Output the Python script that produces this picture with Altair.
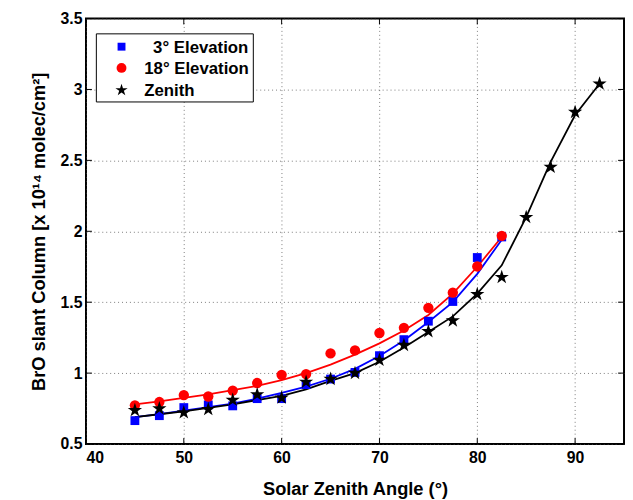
import altair as alt
import pandas as pd

# ---------------- data ----------------
sza = [45, 47.5, 50, 52.5, 55, 57.5, 60, 62.5, 65, 67.5, 70, 72.5, 75, 77.5, 80, 82.5]
sza_zenith = sza + [85, 87.5, 90, 92.5]

elev3_pts = [0.665, 0.70, 0.757, 0.776, 0.769, 0.82, 0.82, 0.919, 0.958, 1.005,
             1.123, 1.236, 1.366, 1.505, 1.815, 1.96]
elev18_pts = [0.773, 0.796, 0.845, 0.835, 0.877, 0.93, 0.988, 0.993, 1.139, 1.16,
              1.283, 1.319, 1.46, 1.567, 1.752, 1.968]
zenith_pts = [0.738, 0.75, 0.722, 0.745, 0.81, 0.849, 0.826, 0.9375, 0.958, 1.0,
              1.092, 1.197, 1.294, 1.37, 1.556, 1.676, 2.099, 2.453, 2.84, 3.04]

elev3_fit = [0.69, 0.71, 0.735, 0.76, 0.785, 0.82, 0.86, 0.905, 0.96, 1.03,
             1.12, 1.23, 1.36, 1.50, 1.70, 1.94]
elev18_fit = [0.78, 0.80, 0.825, 0.85, 0.88, 0.91, 0.95, 1.0, 1.06, 1.13,
              1.21, 1.30, 1.41, 1.56, 1.75, 1.96]
zenith_fit = [0.69, 0.71, 0.73, 0.755, 0.78, 0.81, 0.84, 0.885, 0.945, 1.0,
              1.08, 1.18, 1.29, 1.40, 1.56, 1.76, 2.10, 2.49, 2.82, 3.04]

series = ["3° Elevation", "18° Elevation", "Zenith"]
colors = ["#0000ff", "#ff0000", "#000000"]
STAR = ("M0,-1L0.225,-0.309L0.951,-0.309L0.363,0.118L0.588,0.809L0,0.382"
        "L-0.588,0.809L-0.363,0.118L-0.951,-0.309L-0.225,-0.309Z")
shapes = ["square", "circle", STAR]

x_ticks = [40, 50, 60, 70, 80, 90]
y_ticks = [0.5, 1, 1.5, 2, 2.5, 3, 3.5]

W, H = 545, 431
FONT = "Liberation Sans"

xs = alt.Scale(domain=[40, 95], nice=False, zero=False)
ys = alt.Scale(domain=[0.5, 3.5], nice=False, zero=False)

x_enc = alt.X("sza:Q", scale=xs, axis=alt.Axis(
    values=x_ticks, title="Solar Zenith Angle (°)", format="~g"))
y_enc = alt.Y("bro:Q", scale=ys, axis=alt.Axis(
    values=y_ticks, title="BrO slant Column [x 10¹⁴ molec/cm²]", format="~g"))

fit_sets = [(sza, elev3_fit), (sza, elev18_fit), (sza_zenith, zenith_fit)]
pt_sets = [(sza, elev3_pts), (sza, elev18_pts), (sza_zenith, zenith_pts)]
pt_sizes = [80, 110, 230]

layers = []
for (xv, yv), col in zip(fit_sets, colors):
    df = pd.DataFrame({"sza": xv, "bro": yv})
    layers.append(alt.Chart(df).mark_line(strokeWidth=1.8, color=col).encode(
        x=x_enc, y=y_enc))

# inward ticks on all four sides (MATLAB style)
tdf_x = pd.DataFrame({"t": x_ticks})
tdf_y = pd.DataFrame({"t": y_ticks})
layers += [
    alt.Chart(tdf_x).mark_rule(color="black", strokeWidth=1).encode(
        x=alt.X("t:Q", scale=xs), y=alt.value(H), y2=alt.value(H - 6)),
    alt.Chart(tdf_x).mark_rule(color="black", strokeWidth=1).encode(
        x=alt.X("t:Q", scale=xs), y=alt.value(0), y2=alt.value(6)),
    alt.Chart(tdf_y).mark_rule(color="black", strokeWidth=1).encode(
        y=alt.Y("t:Q", scale=ys), x=alt.value(0), x2=alt.value(6)),
    alt.Chart(tdf_y).mark_rule(color="black", strokeWidth=1).encode(
        y=alt.Y("t:Q", scale=ys), x=alt.value(W), x2=alt.value(W - 6)),
]

for (xv, yv), col, shp, sz in zip(pt_sets, colors, shapes, pt_sizes):
    df = pd.DataFrame({"sza": xv, "bro": yv})
    layers.append(alt.Chart(df).mark_point(
        filled=True, opacity=1, strokeWidth=0, color=col, shape=shp, size=sz
    ).encode(x="sza:Q", y="bro:Q"))

# ---------------- legend box ----------------
box_df = pd.DataFrame({"k": [0]})
layers.append(alt.Chart(box_df).mark_rect(
    fill="white", stroke="black", strokeWidth=1).encode(
    x=alt.value(10.5), x2=alt.value(169.5), y=alt.value(15.5), y2=alt.value(84.5)))

leg_rows_y = [28.5, 50, 72.5]
leg_text_x = [68, 59, 59]
leg_sizes = [64, 100, 170]
for lab, col, shp, sz, ry, tx in zip(series, colors, shapes, leg_sizes, leg_rows_y, leg_text_x):
    df = pd.DataFrame({"label": [lab]})
    layers.append(alt.Chart(df).mark_point(
        filled=True, opacity=1, strokeWidth=0, color=col, shape=shp, size=sz
    ).encode(x=alt.value(36), y=alt.value(ry)))
    layers.append(alt.Chart(df).mark_text(
        align="left", baseline="middle", font=FONT, fontWeight="bold",
        fontSize=17, color="black"
    ).encode(x=alt.value(tx), y=alt.value(ry + 1), text="label:N"))

chart = alt.layer(*layers).properties(
    width=W, height=H,
    autosize=alt.AutoSizeParams(type="none"),
    padding={"left": 79, "top": 7.5, "right": 1, "bottom": 52},
).configure_view(
    stroke="black", strokeWidth=2
).configure_axis(
    domain=False, ticks=False,
    grid=True, gridColor="#444444", gridDash=[1, 3], gridWidth=1, gridOpacity=0.7,
    labelFont=FONT, labelFontWeight="bold", labelFontSize=16, labelColor="black",
    titleFont=FONT, titleFontWeight="bold", titleFontSize=18.5, titleColor="black",
).configure_axisX(
    labelPadding=6, titlePadding=14,
).configure_axisY(
    labelPadding=4, titlePadding=12,
)

chart.save("out.html", embed_options={"renderer": "svg", "actions": False})
